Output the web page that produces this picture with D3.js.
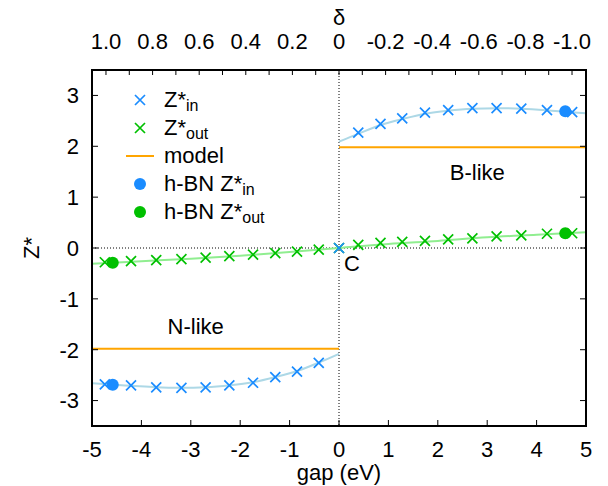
<!DOCTYPE html>
<html><head><meta charset="utf-8">
<script src="https://cdn.jsdelivr.net/npm/d3@7"></script>
<style>
body{margin:0;background:#fff;}
svg{display:block;font-family:"Liberation Sans",Arial,sans-serif;}
</style></head>
<body><svg id="c" width="608" height="486"></svg>
<script>
// ---- data ----
const gapPts = [-4.74,-4.21,-3.70,-3.19,-2.70,-2.22,-1.74,-1.29,-0.85,-0.41,0,0.39,0.84,1.28,1.74,2.21,2.70,3.19,3.69,4.21,4.72];
const zIn    = [-2.68,-2.70,-2.74,-2.75,-2.74,-2.70,-2.65,-2.54,-2.43,-2.26,0,2.27,2.44,2.55,2.66,2.71,2.75,2.75,2.74,2.71,2.67];
const zOut   = [-0.28,-0.26,-0.24,-0.22,-0.19,-0.16,-0.13,-0.10,-0.07,-0.03,0,0.06,0.10,0.12,0.14,0.17,0.19,0.23,0.25,0.28,0.29];
const hbnGap = [-4.58, 4.58];
const hbnIn  = [-2.69, 2.69];
const hbnOut = [-0.29, 0.29];
const modelN = {gap:[-5,0], z:[-1.98,-1.98]};
const modelB = {gap:[0,5], z:[1.98,1.98]};
const fitInNGap = [-5,-4.7,-4.2,-3.7,-3.2,-2.7,-2.2,-1.75,-1.3,-0.85,-0.4,0];
const fitInNZ   = [-2.66,-2.68,-2.71,-2.74,-2.75,-2.74,-2.70,-2.64,-2.54,-2.42,-2.25,-2.08];
const fitInBGap = [0,0.4,0.85,1.3,1.75,2.2,2.7,3.2,3.7,4.2,4.7,5];
const fitInBZ   = [2.09,2.25,2.42,2.54,2.64,2.70,2.74,2.75,2.74,2.71,2.67,2.65];
const fitOutGap = [-5,-4,-3,-2,-1,0,1,2,3,4,5];
const fitOutZ   = [-0.31,-0.26,-0.21,-0.15,-0.08,0,0.08,0.14,0.21,0.26,0.31];
const xTicks = [-5,-4,-3,-2,-1,0,1,2,3,4,5];
const yTicks = [-3,-2,-1,0,1,2,3];
const deltaTicks = [1.0,0.9,0.8,0.7,0.6,0.5,0.4,0.3,0.2,0.1,0,-0.1,-0.2,-0.3,-0.4,-0.5,-0.6,-0.7,-0.8,-0.9,-1.0];
const deltaLabels = {"1":"1.0","0.8":"0.8","0.6":"0.6","0.4":"0.4","0.2":"0.2","0":"0","-0.2":"-0.2","-0.4":"-0.4","-0.6":"-0.6","-0.8":"-0.8","-1":"-1.0"};
const legendItems = [
  {kind:"cross", color:"#1a8cff", main:"Z*", sub:"in"},
  {kind:"cross", color:"#00c000", main:"Z*", sub:"out"},
  {kind:"line",  color:"#ffa500", main:"model", sub:""},
  {kind:"dot",   color:"#1a8cff", main:"h-BN Z*", sub:"in"},
  {kind:"dot",   color:"#00c000", main:"h-BN Z*", sub:"out"}
];
const C_IN="#1a8cff", C_OUT="#00c000", C_MODEL="#ffa500", C_FITIN="#add8e6", C_FITOUT="#90ee90";

// ---- layout ----
const m = {l:92, r:22, t:70, b:60};
const W = 608 - m.l - m.r, H = 486 - m.t - m.b;
const svg = d3.select("#c");
const g = svg.append("g").attr("transform",`translate(${m.l},${m.t})`);
const x = d3.scaleLinear().domain([-5,5]).range([0,W]);
const y = d3.scaleLinear().domain([-3.5,3.5]).range([H,0]);
const xd = d3.scaleLinear().domain([1.06,-1.06]).range([0,W]);
const FS = 22;

svg.append("clipPath").attr("id","clip").append("rect").attr("width",W).attr("height",H);
const pg = g.append("g").attr("clip-path","url(#clip)");

// zero lines
pg.append("line").attr("x1",0).attr("x2",W).attr("y1",y(0)).attr("y2",y(0))
  .attr("stroke","#000").attr("stroke-width",1).attr("stroke-dasharray","1,2");
pg.append("line").attr("x1",x(0)).attr("x2",x(0)).attr("y1",0).attr("y2",H)
  .attr("stroke","#000").attr("stroke-width",1).attr("stroke-dasharray","1,2");

const line = d3.line().x(d=>x(d[0])).y(d=>y(d[1])).curve(d3.curveMonotoneX);
const zip = (a,b)=>a.map((v,i)=>[v,b[i]]);
pg.append("path").attr("d",line(zip(fitInNGap,fitInNZ))).attr("fill","none").attr("stroke",C_FITIN).attr("stroke-width",2);
pg.append("path").attr("d",line(zip(fitInBGap,fitInBZ))).attr("fill","none").attr("stroke",C_FITIN).attr("stroke-width",2);
pg.append("path").attr("d",line(zip(fitOutGap,fitOutZ))).attr("fill","none").attr("stroke",C_FITOUT).attr("stroke-width",2);
[modelN,modelB].forEach(md=>{
  pg.append("path").attr("d",d3.line().x(d=>x(d[0])).y(d=>y(d[1]))(zip(md.gap,md.z)))
    .attr("fill","none").attr("stroke",C_MODEL).attr("stroke-width",2);
});

function cross(sel, cx, cy, color){
  const s=5;
  sel.append("path").attr("d",`M${cx-s},${cy-s}L${cx+s},${cy+s}M${cx-s},${cy+s}L${cx+s},${cy-s}`)
    .attr("stroke",color).attr("stroke-width",1.7).attr("fill","none");
}
zip(gapPts,zOut).forEach(d=>cross(pg,x(d[0]),y(d[1]),C_OUT));
zip(gapPts,zIn).forEach(d=>cross(pg,x(d[0]),y(d[1]),C_IN));
zip(hbnGap,hbnIn).forEach(d=>pg.append("circle").attr("cx",x(d[0])).attr("cy",y(d[1])).attr("r",6).attr("fill",C_IN));
zip(hbnGap,hbnOut).forEach(d=>pg.append("circle").attr("cx",x(d[0])).attr("cy",y(d[1])).attr("r",6).attr("fill",C_OUT));

// ticks (inward)
const tl = 6;
const ax = g.append("g").attr("stroke","#000").attr("stroke-width",1);
xTicks.forEach(t=>{
  if(t===-5||t===5) return;
  ax.append("line").attr("x1",x(t)).attr("x2",x(t)).attr("y1",H).attr("y2",H-tl);
});
deltaTicks.forEach(t=>{
  ax.append("line").attr("x1",xd(t)).attr("x2",xd(t)).attr("y1",0).attr("y2",tl-1);
});
yTicks.forEach(t=>{
  ax.append("line").attr("x1",0).attr("x2",tl).attr("y1",y(t)).attr("y2",y(t));
  ax.append("line").attr("x1",W).attr("x2",W-tl).attr("y1",y(t)).attr("y2",y(t));
});
g.append("rect").attr("width",W).attr("height",H).attr("fill","none").attr("stroke","#000").attr("stroke-width",2);

// tick labels
const tx = g.append("g").attr("font-size",FS).attr("fill","#000");
xTicks.forEach(t=>tx.append("text").attr("x",x(t)).attr("y",H+31).attr("text-anchor","middle").text(String(t)));
deltaTicks.forEach(t=>{
  const k = String(Math.round(t*10)/10);
  if(deltaLabels[k]===undefined) return;
  tx.append("text").attr("x",xd(t)).attr("y",-21).attr("text-anchor","middle").text(deltaLabels[k]);
});
yTicks.forEach(t=>tx.append("text").attr("x",-13).attr("y",y(t)).attr("dy","0.36em").attr("text-anchor","end").text(String(t)));

// axis titles
svg.append("text").attr("x",m.l+W/2).attr("y",480).attr("text-anchor","middle").attr("font-size",FS).text("gap (eV)");
svg.append("text").attr("x",m.l+xd(0)).attr("y",25).attr("text-anchor","middle").attr("font-size",FS).text("δ");
svg.append("text").attr("transform",`translate(31,${m.t+y(0)}) rotate(-90)`).attr("text-anchor","middle").attr("dy","0.36em").attr("font-size",FS).text("Z*");

// annotations
g.append("text").attr("x",x(2.8)).attr("y",y(1.5)).attr("text-anchor","middle").attr("dy","0.36em").attr("font-size",FS).text("B-like");
g.append("text").attr("x",x(-2.9)).attr("y",y(-1.53)).attr("text-anchor","middle").attr("dy","0.36em").attr("font-size",FS).text("N-like");
g.append("text").attr("x",x(0.1)).attr("y",y(-0.3)).attr("font-size",FS).attr("dy","0.36em").text("C");

// legend
const lg = g.append("g");
legendItems.forEach((it,i)=>{
  const cy = 30 + i*28, mx = 48;
  if(it.kind==="cross") cross(lg, mx, cy, it.color);
  else if(it.kind==="dot") lg.append("circle").attr("cx",mx).attr("cy",cy).attr("r",6).attr("fill",it.color);
  else lg.append("line").attr("x1",mx-14).attr("x2",mx+14).attr("y1",cy).attr("y2",cy).attr("stroke",it.color).attr("stroke-width",2);
  const t = lg.append("text").attr("x",72).attr("y",cy).attr("dy","0.3em").attr("font-size",FS);
  t.append("tspan").text(it.main);
  if(it.sub) t.append("tspan").attr("dy","0.3em").attr("font-size",16).text(it.sub);
});
</script></body></html>
